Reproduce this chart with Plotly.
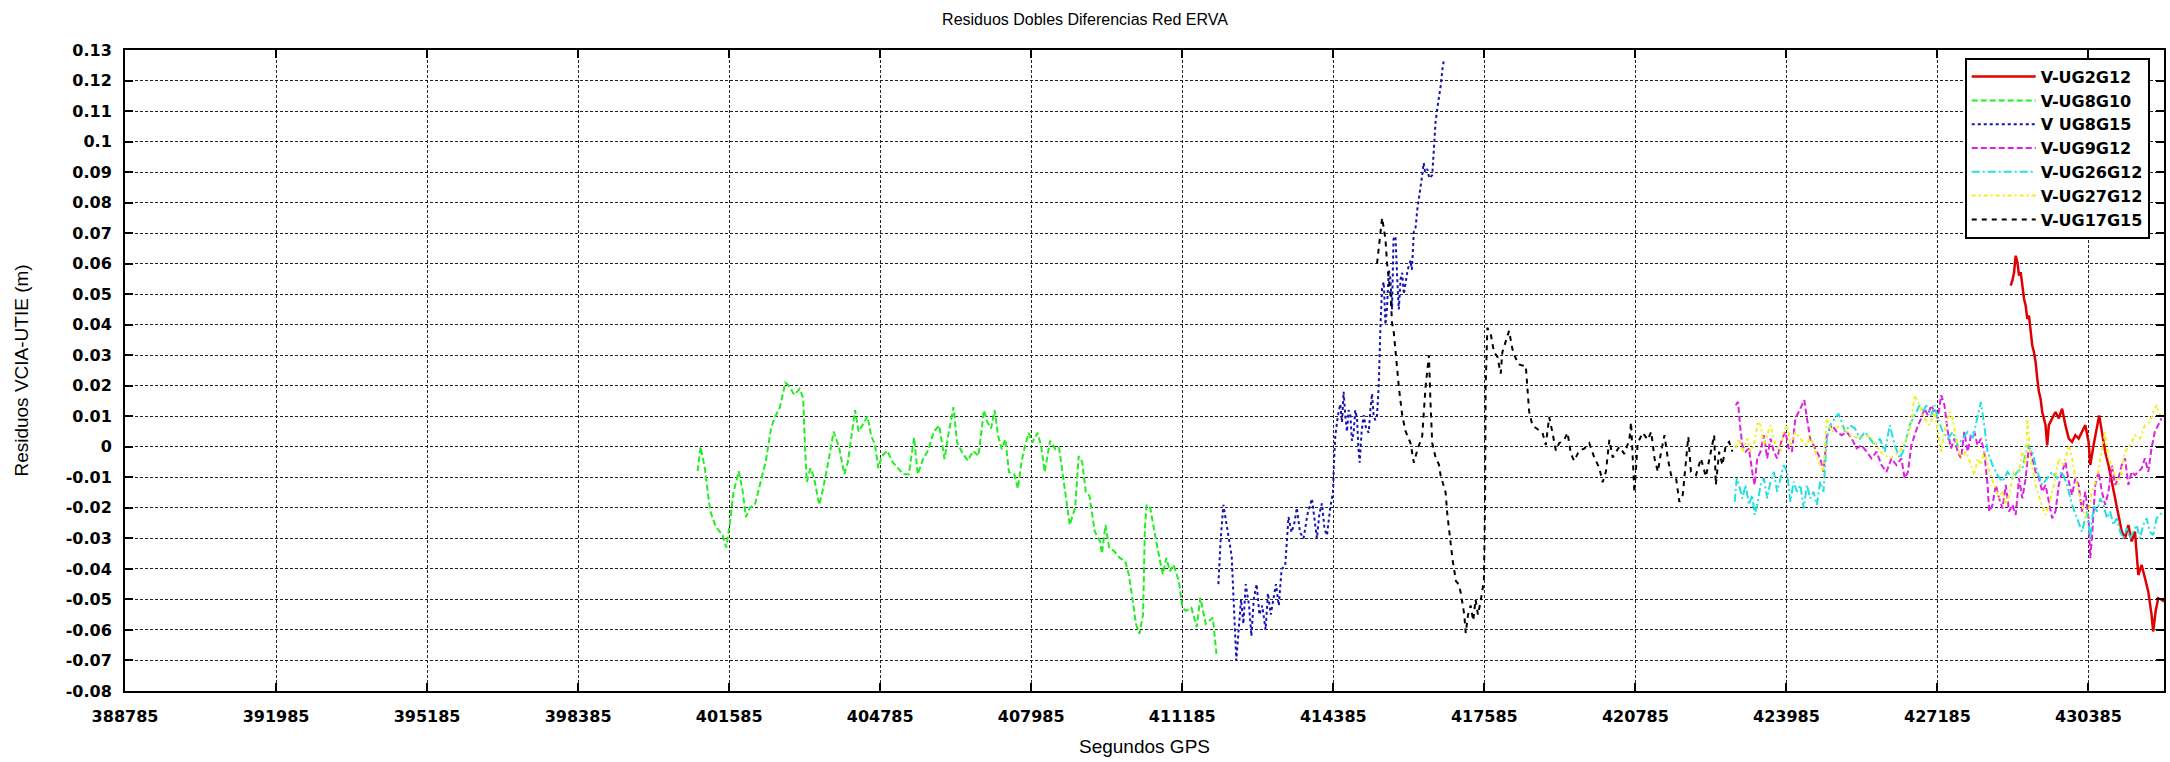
import plotly.graph_objects as go

# ---------------- data ----------------
series_names = ["V-UG2G12", "V-UG8G10", "V UG8G15", "V-UG9G12", "V-UG26G12", "V-UG27G12", "V-UG17G15"]

x_ticks = ["388785", "391985", "395185", "398385", "401585", "404785", "407985",
           "411185", "414385", "417585", "420785", "423985", "427185", "430385"]
y_ticks = ["-0.08", "-0.07", "-0.06", "-0.05", "-0.04", "-0.03", "-0.02", "-0.01", "0",
           "0.01", "0.02", "0.03", "0.04", "0.05", "0.06", "0.07", "0.08", "0.09", "0.1",
           "0.11", "0.12", "0.13"]
x_range = [388785, 431985]
y_range = [-0.08, 0.13]

red_x = [428737, 428773, 428808, 428843, 428879, 428914, 428949, 428984, 429019, 429054,
         429089, 429124, 429159, 429194, 429230, 429265, 429300, 429335, 429370, 429405,
         429440, 429475, 429510, 429545, 429616, 429686, 429756, 429826, 429896, 429967,
         430037, 430107, 430177, 430247, 430318, 430388, 430423, 430493, 430563, 430612,
         430669, 430739, 430809, 430879, 430949, 431020, 431090, 431160, 431230, 431300,
         431370, 431441, 431511, 431581, 431651, 431721, 431756, 431806, 431862, 431932,
         431985]
red_y = [0.0528, 0.0545, 0.0572, 0.0626, 0.0605, 0.0561, 0.0572, 0.0528, 0.0485, 0.0463,
         0.0419, 0.043, 0.0387, 0.0332, 0.031, 0.0278, 0.0223, 0.018, 0.0158, 0.0114,
         0.0093, 0.0071, 0.0005, 0.0071, 0.0093, 0.0114, 0.0093, 0.0125, 0.0071, 0.0027,
         0.0016, 0.0038, 0.0027, 0.0049, 0.0071, 0.0016, -0.006, 0.0005, 0.0071, 0.0103,
         0.0049, -0.0016, -0.006, -0.0114, -0.0169, -0.0212, -0.0278, -0.030, -0.0256, -0.031,
         -0.0278, -0.042, -0.0387, -0.043, -0.0474, -0.055, -0.0605, -0.054, -0.0496, -0.0501,
         -0.0507]

green_x = [400918, 400979, 401070, 401183, 401297, 401449, 401524, 401600, 401676, 401790,
           401866, 401941, 402017, 402131, 402244, 402358, 402472, 402548, 402661, 402775,
           402851, 402964, 403078, 403154, 403192, 403230, 403306, 403381, 403495, 403571,
           403685, 403798, 403912, 404026, 404101, 404177, 404253, 404329, 404405, 404518,
           404594, 404670, 404746, 404822, 404935, 405049, 405163, 405276, 405390, 405504,
           405580, 405694, 405807, 405921, 406035, 406148, 406224, 406338, 406414, 406527,
           406641, 406755, 406868, 406982, 407058, 407134, 407210, 407285, 407361, 407437,
           407513, 407626, 407702, 407778, 407854, 407930, 408005, 408119, 408195, 408271,
           408384, 408498, 408574, 408687, 408801, 408915, 408991, 409066, 409142, 409218,
           409332, 409445, 409483, 409559, 409635, 409748, 409862, 409976, 410052, 410127,
           410203, 410279, 410355, 410393, 410431, 410506, 410582, 410658, 410772, 410847,
           410923, 410999, 411113, 411188, 411264, 411378, 411492, 411567, 411681, 411833,
           411909]
green_y = [-0.008, 0.000, -0.007, -0.021, -0.026, -0.029, -0.033, -0.025, -0.015, -0.008,
           -0.014, -0.023, -0.020, -0.019, -0.012, -0.005, 0.006, 0.0095, 0.013, 0.021,
           0.020, 0.017, 0.019, 0.016, 0.000, -0.0115, -0.007, -0.010, -0.019, -0.014,
           -0.005, 0.005, 0.000, -0.009, -0.005, 0.0035, 0.012, 0.005, 0.007, 0.010,
           0.0035, 0.001, -0.007, -0.003, -0.0013, -0.005, -0.007, -0.009, -0.009, 0.003,
           -0.009, -0.004, -0.001, 0.005, 0.007, -0.004, 0.0035, 0.013, 0.0015, -0.002,
           -0.0045, -0.0013, -0.003, 0.012, 0.008, 0.006, 0.012, 0.0035, -0.0008, 0.0025,
           -0.0083, -0.009, -0.0137, -0.005, 0.0003, 0.0046, 0.0014, 0.0046, 0.0003, -0.0083,
           0.002, -0.0008, -0.0002, -0.0126, -0.0256, -0.020, -0.003, -0.005, -0.0148, -0.016,
           -0.0278, -0.031, -0.035, -0.0256, -0.033, -0.0343, -0.0364, -0.0375, -0.0418, -0.0494,
           -0.058, -0.0613, -0.0548, -0.0267, -0.019, -0.020, -0.0267, -0.033, -0.0418, -0.0364,
           -0.0408, -0.0386, -0.044, -0.0527, -0.0537, -0.0527, -0.059, -0.0494, -0.058, -0.056,
           -0.0678]

blue_x = [411950, 412000, 412056, 412110, 412162, 412233, 412280, 412330, 412380, 412430,
          412480, 412530, 412600, 412650, 412700, 412760, 412820, 412880, 412950, 413000,
          413060, 413120, 413170, 413230, 413290, 413366, 413400, 413436, 413500, 413560,
          413613, 413680, 413755, 413840, 413932, 413990, 414038, 414090, 414144, 414200,
          414251, 414320, 414378, 414400, 414427, 414480, 414533, 414570, 414604, 414640,
          414675, 414710, 414746, 414780, 414817, 414850, 414888, 414915, 414944, 414985,
          415029, 415080, 415135, 415170, 415206, 415240, 415277, 415310, 415348, 415385,
          415419, 415454, 415490, 415525, 415560, 415595, 415630, 415660, 415702, 415740,
          415773, 415810, 415844, 415880, 415914, 415960, 416021, 416050, 416092, 416130,
          416163, 416210, 416269, 416300, 416330, 416375, 416420, 416481, 416520, 416552,
          416600, 416658, 416700, 416729]
blue_y = [-0.045, -0.030, -0.019, -0.025, -0.029, -0.036, -0.055, -0.070, -0.060, -0.050,
          -0.058, -0.045, -0.052, -0.062, -0.050, -0.045, -0.055, -0.052, -0.060, -0.048,
          -0.055, -0.050, -0.045, -0.052, -0.040, -0.039, -0.030, -0.023, -0.028, -0.025,
          -0.020, -0.028, -0.030, -0.022, -0.017, -0.025, -0.030, -0.022, -0.0185, -0.027,
          -0.029, -0.020, -0.015, -0.005, 0.0035, 0.010, 0.014, 0.008, 0.018, 0.010,
          0.005, 0.012, 0.0104, 0.002, 0.0046, 0.012, 0.0093, 0.000, -0.0052, 0.005,
          0.0104, 0.006, 0.0046, 0.012, 0.0174, 0.010, 0.0087, 0.010, 0.020, 0.040,
          0.052, 0.054, 0.040, 0.046, 0.058, 0.055, 0.045, 0.068, 0.069, 0.055,
          0.045, 0.055, 0.057, 0.050, 0.054, 0.058, 0.061, 0.058, 0.0706, 0.072,
          0.0775, 0.082, 0.089, 0.093, 0.090, 0.091, 0.088, 0.089, 0.100, 0.1065,
          0.112, 0.118, 0.124, 0.127]

magenta_x = [422911, 422960, 423002, 423051, 423121, 423191, 423261, 423311, 423367, 423437,
             423507, 423577, 423648, 423718, 423788, 423894, 423964, 424034, 424104, 424174,
             424245, 424315, 424364, 424420, 424490, 424560, 424630, 424701, 424771, 424841,
             424946, 425052, 425157, 425262, 425368, 425473, 425578, 425684, 425789, 425894,
             426000, 426105, 426210, 426316, 426421, 426491, 426561, 426632, 426702, 426772,
             426842, 426912, 426983, 427053, 427123, 427193, 427264, 427334, 427404, 427474,
             427544, 427615, 427685, 427755, 427825, 427896, 427966, 428036, 428106, 428176,
             428247, 428282, 428352, 428422, 428492, 428563, 428633, 428703, 428773, 428843,
             428914, 428984, 429054, 429124, 429194, 429265, 429335, 429405, 429475, 429545,
             429616, 429686, 429756, 429826, 429896, 429967, 430037, 430107, 430177, 430247,
             430318, 430388, 430423, 430458, 430528, 430598, 430669, 430739, 430809, 430879,
             430949, 431020, 431090, 431160, 431230, 431300, 431370, 431441, 431511, 431581,
             431651, 431721, 431791, 431862, 431932]
magenta_y = [0.0136, 0.0147, 0.0071, 0.0005, -0.0016, -0.0005, -0.0082, -0.0125, -0.0038, -0.0016,
             0.0038, -0.0038, 0.0027, -0.0016, -0.0038, 0.0027, 0.0049, -0.0005, -0.0016, 0.0093,
             0.0114, 0.0136, 0.0153, 0.0093, 0.0027, 0.0005, -0.0016, -0.0038, -0.0082, 0.0038,
             0.0071, 0.0049, 0.0038, 0.0049, 0.0027, -0.0005, 0.0005, -0.0016, -0.0038, -0.0016,
             -0.006, -0.0082, -0.0038, -0.006, -0.0038, -0.0103, -0.0082, 0.0005, 0.0038, 0.0071,
             0.0093, 0.0125, 0.0103, 0.0136, 0.0114, 0.0093, 0.0169, 0.0136, 0.0049, -0.0005,
             0.0027, -0.0016, -0.0038, 0.0049, -0.0016, 0.0038, 0.0049, 0.0005, 0.0027, -0.0016,
             -0.0125, -0.0212, -0.019, -0.0125, -0.0169, -0.0202, -0.0125, -0.0212, -0.019, -0.0223,
             -0.0103, -0.0169, -0.0103, 0.0005, -0.0038, -0.0082, -0.0103, -0.0147, -0.0125, -0.018,
             -0.0234, -0.0212, -0.0125, -0.0082, -0.0049, -0.0114, -0.0158, -0.0103, -0.0125, -0.0212,
             -0.0147, -0.0234, -0.0365, -0.030, -0.0125, -0.0082, -0.0147, -0.019, -0.0147, -0.006,
             -0.0125, -0.0103, -0.006, -0.0038, -0.0125, -0.0082, -0.0093, -0.0082, -0.0071, -0.0038,
             -0.0082, -0.0005, 0.0049, 0.0071, 0.0093]

cyan_x = [422890, 422932, 422981, 423051, 423121, 423191, 423261, 423311, 423367, 423437,
          423507, 423577, 423648, 423718, 423788, 423858, 423929, 423999, 424069, 424139,
          424209, 424280, 424350, 424420, 424490, 424560, 424630, 424701, 424771, 424841,
          424911, 425016, 425087, 425157, 425227, 425333, 425438, 425543, 425649, 425754,
          425859, 425965, 426070, 426175, 426281, 426386, 426456, 426526, 426596, 426667,
          426737, 426807, 426877, 426947, 427053, 427123, 427193, 427298, 427404, 427509,
          427615, 427720, 427825, 427931, 428036, 428106, 428176, 428247, 428352, 428457,
          428563, 428668, 428773, 428879, 428984, 429089, 429194, 429300, 429405, 429510,
          429616, 429721, 429826, 429932, 430037, 430142, 430247, 430353, 430423, 430493,
          430563, 430634, 430704, 430774, 430844, 430914, 430985, 431055, 431125, 431195,
          431265, 431335, 431406, 431476, 431546, 431616, 431686, 431756, 431827, 431897,
          431967]
cyan_y = [-0.018, -0.0103, -0.0125, -0.0169, -0.0125, -0.019, -0.0158, -0.0223, -0.019, -0.0125,
          -0.0103, -0.0169, -0.0114, -0.0082, -0.0147, -0.0103, -0.006, -0.0082, -0.018, -0.0114,
          -0.0147, -0.0125, -0.0202, -0.0125, -0.0169, -0.0147, -0.019, -0.0114, -0.0147, 0.0027,
          0.0071, 0.0093, 0.0109, 0.0082, 0.0049, 0.0071, 0.006, 0.0027, 0.0049, 0.0027,
          0.0005, 0.0027, -0.0016, 0.0071, 0.0005, -0.0038, -0.0016, 0.0027, 0.0071, 0.0093,
          0.0114, 0.0136, 0.0114, 0.0136, 0.0103, 0.0136, 0.0093, 0.0049, 0.0027, 0.0049,
          0.0005, 0.0027, 0.0049, 0.0027, 0.0093, 0.0147, 0.0071, -0.0016, -0.006, -0.0093,
          -0.0114, -0.0082, -0.0103, -0.0082, -0.0071, 0.0005, -0.0016, -0.0082, -0.0125, -0.0103,
          -0.0082, -0.0103, -0.0082, -0.0125, -0.019, -0.0234, -0.0278, -0.0212, -0.030, -0.019,
          -0.0212, -0.0169, -0.019, -0.0234, -0.0212, -0.0256, -0.0234, -0.0278, -0.030, -0.0267,
          -0.030, -0.0278, -0.0256, -0.030, -0.0256, -0.0234, -0.0278, -0.0289, -0.0234, -0.0223,
          -0.0212]

yellow_x = [422911, 422981, 423051, 423156, 423226, 423296, 423381, 423437, 423507, 423577,
            423648, 423753, 423858, 423929, 423999, 424069, 424174, 424280, 424350, 424420,
            424490, 424595, 424701, 424771, 424841, 424946, 425122, 425333, 425543, 425754,
            425965, 426175, 426386, 426596, 426702, 426807, 426912, 427018, 427123, 427193,
            427264, 427334, 427439, 427509, 427580, 427685, 427790, 427896, 427966, 428036,
            428106, 428176, 428282, 428387, 428492, 428563, 428633, 428703, 428808, 428914,
            428984, 429054, 429089, 429159, 429265, 429370, 429475, 429545, 429651, 429756,
            429861, 429967, 430037, 430107, 430177, 430247, 430318, 430388, 430458, 430563,
            430669, 430739, 430809, 430914, 431020, 431090, 431160, 431265, 431370, 431476,
            431581, 431686, 431756, 431827, 431897, 431967]
yellow_y = [-0.0005, 0.0027, -0.0016, 0.0027, -0.0016, 0.0005, 0.0082, 0.0071, 0.0005, 0.0038,
            0.0071, 0.0005, -0.0016, 0.0049, 0.0071, 0.0005, 0.0049, 0.0027, 0.0016, 0.0005,
            0.0038, -0.0016, -0.006, -0.0082, 0.0093, 0.0049, 0.0071, 0.0038, 0.0027, 0.0038,
            -0.0016, -0.0038, -0.0016, 0.0049, 0.0169, 0.0136, 0.0093, 0.0071, 0.0114, 0.0049,
            -0.0016, 0.0049, 0.0114, 0.0093, 0.0027, -0.0038, -0.0016, -0.006, -0.0093, -0.0038,
            -0.006, -0.0016, -0.0082, -0.0125, -0.0169, -0.0147, -0.019, -0.0158, -0.0082, -0.0082,
            -0.0016, -0.006, 0.0093, -0.0038, -0.0125, -0.018, -0.0223, -0.019, -0.0125, -0.0038,
            -0.006, 0.0005, -0.0038, -0.0103, -0.0147, -0.019, -0.0234, -0.0212, -0.0147, -0.0103,
            -0.0016, 0.0049, -0.0038, -0.0082, -0.0125, -0.0082, -0.0016, 0.0005, 0.0038, 0.0027,
            0.0071, 0.0082, 0.0114, 0.0136, 0.0103, 0.0114]

black_x = [415312, 415383, 415419, 415490, 415525, 415596, 415631, 415666, 415702, 415737,
           415773, 415844, 415914, 416021, 416092, 416163, 416269, 416340, 416411, 416446,
           416481, 416552, 416623, 416658, 416765, 416800, 416835, 416870, 416912, 416984,
           417040, 417088, 417160, 417191, 417240, 417295, 417350, 417399, 417450, 417502,
           417575, 417600, 417613, 417634, 417649, 417720, 417790, 417861, 417932, 417967,
           418038, 418109, 418180, 418250, 418321, 418392, 418463, 418498, 418534, 418604,
           418711, 418817, 418888, 418959, 419029, 419100, 419171, 419277, 419348, 419419,
           419489, 419596, 419702, 419808, 419914, 420021, 420091, 420162, 420233, 420304,
           420375, 420445, 420551, 420658, 420693, 420764, 420834, 420941, 421047, 421121,
           421191, 421261, 421331, 421402, 421472, 421542, 421647, 421717, 421788, 421858,
           421907, 421963, 422069, 422174, 422279, 422384, 422455, 422490, 422560, 422630,
           422700, 422771, 422841]
black_y = [0.060, 0.0706, 0.075, 0.068, 0.060, 0.050, 0.0405, 0.0376, 0.031, 0.0243,
           0.0197, 0.0104, 0.0052, 0.0012, -0.0052, -0.0012, 0.0035, 0.0197, 0.030, 0.0139,
           0.0012, -0.0035, -0.0058, -0.0093, -0.015, -0.022, -0.0266, -0.0324, -0.037, -0.044,
           -0.045, -0.048, -0.055, -0.061, -0.055, -0.052, -0.057, -0.050, -0.055, -0.051,
           -0.044, -0.020, 0.0197, 0.031, 0.039, 0.037, 0.031, 0.0295, 0.024, 0.031,
           0.0347, 0.038, 0.032, 0.029, 0.027, 0.0266, 0.0266, 0.0197, 0.0116, 0.007,
           0.0058, 0.0046, 0.0006, 0.0098, 0.0046, -0.0012, 0.0012, 0.0023, 0.0046, -0.0023,
           -0.0046, -0.0012, -0.0006, 0.0012, -0.0035, -0.0069, -0.0116, -0.0081, 0.0023, -0.0035,
           -0.0017, 0.000, -0.0023, 0.0023, 0.0081, -0.015, 0.0012, 0.0046, 0.0023, 0.0049,
           -0.0038, -0.0082, -0.0016, 0.0038, -0.0038, -0.0093, -0.0103, -0.018, -0.0158, -0.0038,
           0.0033, -0.0082, -0.0093, -0.0038, -0.0098, -0.0016, 0.0038, -0.0125, -0.0016, -0.006,
           0.0005, 0.0016, -0.0016]

# ---------------- styles ----------------
colors = ["#e00000", "#22ee22", "#1414b4", "#e020e0", "#22e0e0", "#f0f020", "#000000"]
dashes = ["solid", "6px,3px", "3px,3px", "6px,3px", "8px,3px,2px,3px", "4px,3px,2px,3px", "5px,5px"]
widths = [2.5, 2, 2, 2, 2, 2, 2]

xs = [red_x, green_x, blue_x, magenta_x, cyan_x, yellow_x, black_x]
ys = [red_y, green_y, blue_y, magenta_y, cyan_y, yellow_y, black_y]

fig = go.Figure()
for name, x, y, c, d, w in zip(series_names, xs, ys, colors, dashes, widths):
    fig.add_trace(go.Scatter(x=x, y=y, mode="lines", name=name,
                             line=dict(color=c, width=w, dash=d)))

tick_font = dict(family="DejaVu Sans", size=16, color="black", weight="bold")
label_font = dict(family="Liberation Sans", size=19, color="black")

fig.update_layout(
    width=2170, height=762,
    margin=dict(l=125, r=4, t=50, b=71),
    paper_bgcolor="white", plot_bgcolor="white",
    title=dict(text="Residuos Dobles Diferencias Red ERVA", x=0.5, xref="container",
               xanchor="center", y=0.974, yref="container", yanchor="middle",
               font=dict(family="Liberation Sans", size=16, color="black")),
    showlegend=True,
    legend=dict(x=0.993, xanchor="right", y=0.988, yanchor="top",
                bgcolor="white", bordercolor="black", borderwidth=2,
                font=dict(family="DejaVu Sans", size=16, color="black", weight="bold"),
                tracegroupgap=0, itemwidth=64),
)
fig.update_xaxes(
    range=x_range, tickmode="array",
    tickvals=[int(t) for t in x_ticks], ticktext=x_ticks,
    tickfont=tick_font, ticks="inside", ticklen=8, tickwidth=2, tickcolor="black",
    showline=True, linecolor="black", linewidth=2, mirror="ticks",
    showgrid=True, gridcolor="#222222", gridwidth=1, griddash="3px,2px",
    zeroline=False, ticklabelstandoff=10,
    title=dict(text="Segundos GPS", font=label_font, standoff=14),
)
fig.update_yaxes(
    range=y_range, tickmode="array",
    tickvals=[float(t) for t in y_ticks], ticktext=y_ticks,
    tickfont=tick_font, ticks="inside", ticklen=8, tickwidth=2, tickcolor="black",
    showline=True, linecolor="black", linewidth=2, mirror="ticks",
    showgrid=True, gridcolor="#222222", gridwidth=1, griddash="3px,2px",
    zeroline=False, ticklabelstandoff=8,
    title=dict(text="Residuos VCIA-UTIE (m)", font=label_font, standoff=32),
)

fig.write_html("out.html")
